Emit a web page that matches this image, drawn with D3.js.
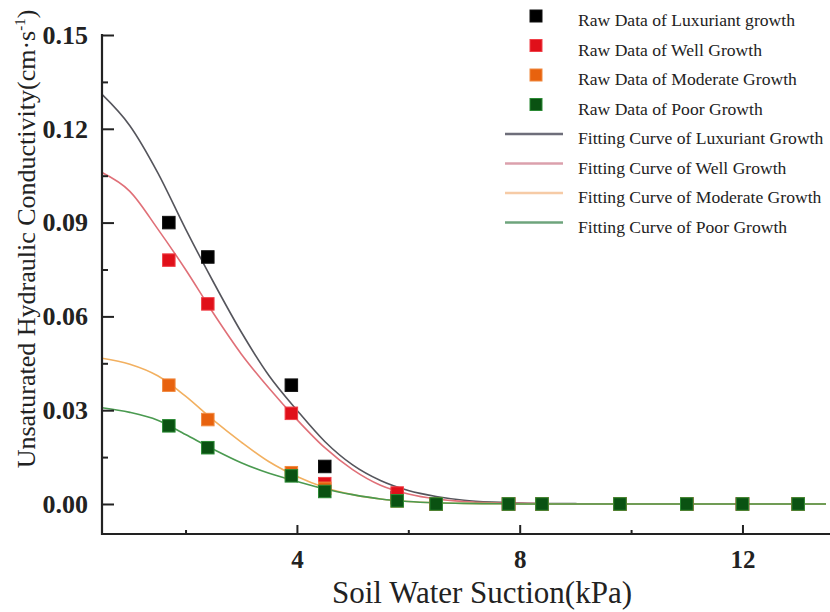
<!DOCTYPE html>
<html>
<head>
<meta charset="utf-8">
<script src="https://cdn.jsdelivr.net/npm/d3@7"></script>
<style>
html,body{margin:0;padding:0;background:#fff;}
svg{display:block;font-family:"Liberation Serif","Times New Roman",serif;}
</style>
</head>
<body>
<svg id="chart" width="830" height="612"></svg>
<script>
// ---- data ----
const suction = [1.7, 2.4, 3.9, 4.5, 5.8, 6.5, 7.8, 8.4, 9.8, 11, 12, 13];
const rawLuxuriant = [0.090, 0.079, 0.038, 0.012, 0.002, 0, 0, 0, 0, 0, 0, 0];
const rawWell      = [0.078, 0.064, 0.029, 0.0065, 0.0035, 0, 0, 0, 0, 0, 0, 0];
const rawModerate  = [0.038, 0.027, 0.010, 0.005, 0.001, 0, 0, 0, 0, 0, 0, 0];
const rawPoor      = [0.025, 0.018, 0.009, 0.004, 0.001, 0, 0, 0, 0, 0, 0, 0];

const curveX = [0.5, 1.0, 1.5, 2.0, 2.5, 3.0, 3.5, 4.0, 4.5, 5.0, 5.5, 6.0, 6.5, 7.0, 7.5, 8.0, 9, 10, 11, 12, 13, 13.5];
const fitLuxuriant = [0.131, 0.121, 0.106, 0.088, 0.071, 0.055, 0.041, 0.030, 0.020, 0.0125, 0.0075, 0.0043, 0.0024, 0.0012, 0.0006, 0.0003, 0.0001, 0, 0, 0, 0, 0];
const fitWell      = [0.106, 0.100, 0.088, 0.075, 0.061, 0.048, 0.037, 0.027, 0.018, 0.0110, 0.0060, 0.0032, 0.0016, 0.0008, 0.0004, 0.0002, 0, 0, 0, 0, 0, 0];
const fitModerate  = [0.0466, 0.0447, 0.041, 0.0345, 0.0268, 0.0198, 0.0135, 0.0088, 0.0053, 0.003, 0.0016, 0.0008, 0.0004, 0.0002, 0.0001, 0, 0, 0, 0, 0, 0, 0];
const fitPoor      = [0.0308, 0.0293, 0.0268, 0.0222, 0.0175, 0.0132, 0.0098, 0.0072, 0.0048, 0.003, 0.0016, 0.0008, 0.0004, 0.0002, 0.0001, 0, 0, 0, 0, 0, 0, 0];

const yTicks = [0.00, 0.03, 0.06, 0.09, 0.12, 0.15];
const yMinor = [0.015, 0.045, 0.075, 0.105, 0.135];
const xTicks = [4, 8, 12];
const xMinor = [2, 6, 10];

const legendLabels = [
  "Raw Data of Luxuriant growth",
  "Raw Data of Well Growth",
  "Raw Data of Moderate Growth",
  "Raw Data of Poor Growth",
  "Fitting Curve of Luxuriant Growth",
  "Fitting Curve of Well Growth",
  "Fitting Curve of Moderate Growth",
  "Fitting Curve of Poor Growth"
];

const series = [
  {raw: rawLuxuriant, fit: fitLuxuriant, fill: "#000000", edge: "#111111", line: "#55555c", legLine: "#6e6e7a"},
  {raw: rawWell,      fit: fitWell,      fill: "#e0101a", edge: "#f04048", line: "#e07078", legLine: "#dba0ac"},
  {raw: rawModerate,  fit: fitModerate,  fill: "#e8620e", edge: "#f08a40", line: "#f2b060", legLine: "#f6cba6"},
  {raw: rawPoor,      fit: fitPoor,      fill: "#0a5212", edge: "#2a8a34", line: "#4a9a50", legLine: "#6ea47c"}
];

// ---- layout ----
const svg = d3.select("#chart");
const x = d3.scaleLinear().domain([0.5, 13.5]).range([102, 826]);
const y = d3.scaleLinear().domain([-0.0096, 0.15]).range([534, 35]);

svg.append("defs").append("clipPath").attr("id", "plotclip")
  .append("rect").attr("x", 102).attr("y", 20).attr("width", 728).attr("height", 514);

// curves
const line = d3.line().x(d => x(d[0])).y(d => y(d[1])).curve(d3.curveMonotoneX);
const gCurves = svg.append("g").attr("clip-path", "url(#plotclip)");
series.forEach(s => {
  gCurves.append("path")
    .attr("d", line(curveX.map((v, i) => [v, s.fit[i]])))
    .attr("fill", "none").attr("stroke", s.line).attr("stroke-width", 1.6);
});

// points
const sq = 12.5;
series.forEach(s => {
  svg.append("g").selectAll("rect").data(suction.map((v, i) => [v, s.raw[i]])).join("rect")
    .attr("x", d => x(d[0]) - sq / 2).attr("y", d => y(d[1]) - sq / 2)
    .attr("width", sq).attr("height", sq)
    .attr("fill", s.fill).attr("stroke", s.edge).attr("stroke-width", 1);
});

// axes
const yAxis = d3.axisLeft(y).tickValues(yTicks).tickSize(-12).tickPadding(14)
  .tickFormat(d3.format(".2f"));
const gy = svg.append("g").attr("transform", "translate(102,0)").call(yAxis);
gy.select(".domain").remove();
gy.selectAll(".tick line").attr("stroke", "#222").attr("stroke-width", 2);
gy.selectAll(".tick text").attr("font-size", 26).attr("font-weight", "bold")
  .attr("fill", "#222").attr("font-family", "Liberation Serif, serif");

const yAxisMinor = d3.axisLeft(y).tickValues(yMinor).tickSize(-6).tickFormat("");
const gym = svg.append("g").attr("transform", "translate(102,0)").call(yAxisMinor);
gym.select(".domain").remove();
gym.selectAll(".tick line").attr("stroke", "#222").attr("stroke-width", 2);

const xAxis = d3.axisBottom(x).tickValues(xTicks).tickSize(-9).tickPadding(16)
  .tickFormat(d3.format("d"));
const gx = svg.append("g").attr("transform", "translate(0,534)").call(xAxis);
gx.select(".domain").remove();
gx.selectAll(".tick line").attr("stroke", "#222").attr("stroke-width", 2);
gx.selectAll(".tick text").attr("font-size", 25).attr("font-weight", "bold")
  .attr("fill", "#222").attr("font-family", "Liberation Serif, serif");

const xAxisMinor = d3.axisBottom(x).tickValues(xMinor).tickSize(-4).tickFormat("");
const gxm = svg.append("g").attr("transform", "translate(0,534)").call(xAxisMinor);
gxm.select(".domain").remove();
gxm.selectAll(".tick line").attr("stroke", "#222").attr("stroke-width", 2);

// axis lines
svg.append("line").attr("x1", 102).attr("x2", 102).attr("y1", 34).attr("y2", 535)
  .attr("stroke", "#222").attr("stroke-width", 2.2);
svg.append("line").attr("x1", 101).attr("x2", 830).attr("y1", 534).attr("y2", 534)
  .attr("stroke", "#222").attr("stroke-width", 2.2);

// axis titles
svg.append("text").attr("x", 482).attr("y", 603).attr("text-anchor", "middle")
  .attr("font-size", 31).attr("fill", "#222").text("Soil Water Suction(kPa)");

const yt = svg.append("text").attr("transform", "translate(35,239) rotate(-90)")
  .attr("text-anchor", "middle").attr("font-size", 26).attr("fill", "#222");
yt.append("tspan").text("Unsaturated Hydraulic Conductivity(cm·s");
yt.append("tspan").attr("font-size", 15).attr("dy", -10).text("-1");
yt.append("tspan").attr("dy", 10).text(")");

// legend
const legTop = 16, legStep = 29.5;
legendLabels.forEach((lab, i) => {
  const ry = legTop + i * legStep;
  const s = series[i % 4];
  if (i < 4) {
    svg.append("rect").attr("x", 536 - 6).attr("y", ry - 6).attr("width", 12).attr("height", 12)
      .attr("fill", s.fill).attr("stroke", s.edge).attr("stroke-width", 1);
  } else {
    svg.append("line").attr("x1", 505).attr("x2", 563).attr("y1", ry).attr("y2", ry)
      .attr("stroke", s.legLine).attr("stroke-width", 2.4);
  }
  svg.append("text").attr("x", 578).attr("y", ry + 10).attr("font-size", 17.6)
    .attr("fill", "#222").text(lab);
});
</script>
</body>
</html>
